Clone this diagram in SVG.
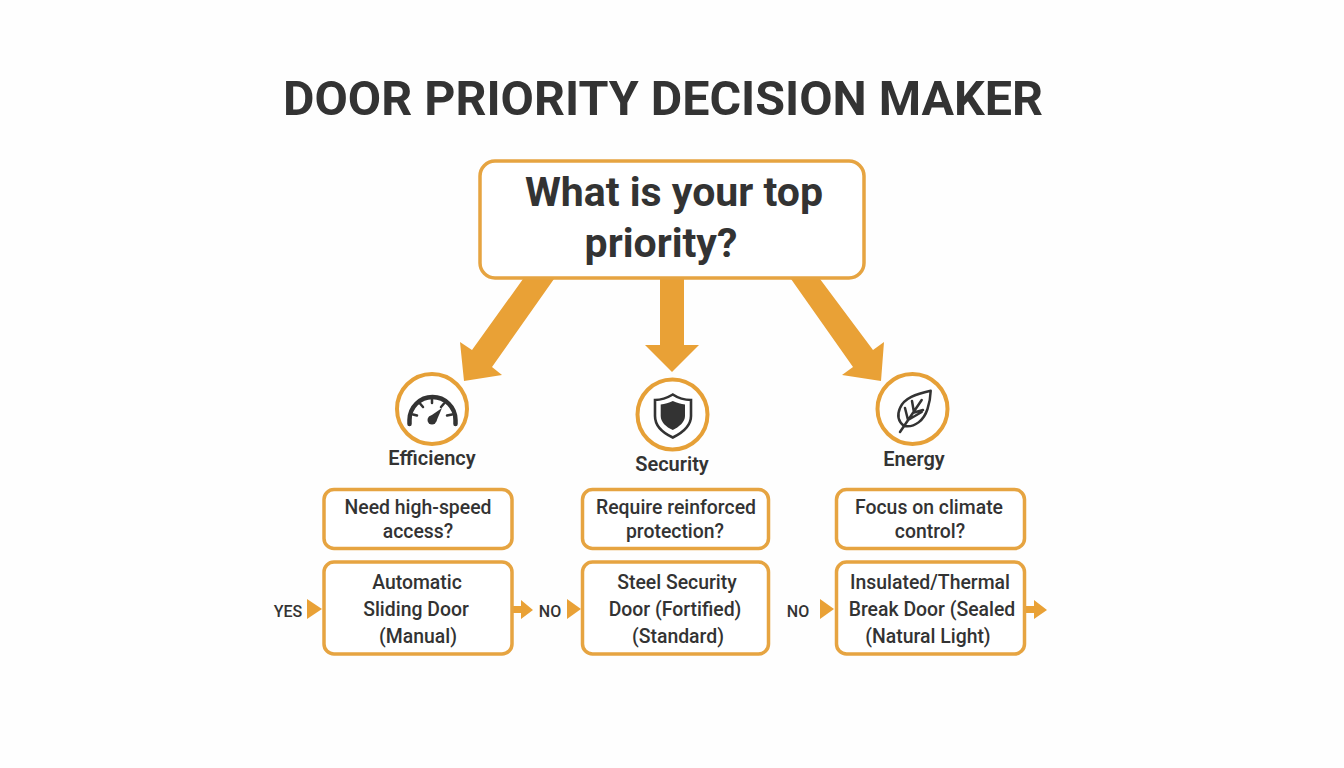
<svg xmlns="http://www.w3.org/2000/svg" width="1344" height="768" viewBox="0 0 1344 768">
<style>
text{font-family:Roboto,"Liberation Sans",sans-serif;fill:#333;text-anchor:middle}
.b{fill:#fff;stroke:#e6a441;stroke-width:3.500}
.c{fill:#fff;stroke:#e6a037;stroke-width:4}
.a{fill:#e9a136}
.t{font-size:19.400px;font-weight:500}
.l{font-size:20px;font-weight:600}
.y{font-size:16px;font-weight:500}
.i{fill:none;stroke:#333;stroke-linecap:round;stroke-linejoin:round}
</style>
<rect width="1344" height="768" fill="#fefefe"/>
<text x="663" y="115" font-size="48.400" font-weight="700">DOOR PRIORITY DECISION MAKER</text>
<g id="connectors">
<polygon class="a" points="523,279 554,279 492,367 502,375 464,381 460,342 472,350"/>
<polygon class="a" points="660,279 684,279 684,345 699,345 672,372 645,345 660,345"/>
<polygon class="a" points="791,279 820,279 873,350 884,342 881,381 842,375 853,367"/>
<polygon class="a" points="307,599 322,609 307,619"/>
<polygon class="a" points="513,606 521,606 521,600 533,610 521,619 521,613 513,613"/>
<polygon class="a" points="567,599 581,609 567,619"/>
<polygon class="a" points="820,599 834,609 820,619"/>
<polygon class="a" points="1025,606 1034,606 1034,600 1047,610 1034,619 1034,613 1025,613"/>
<text class="y" x="288" y="617">YES</text>
<text class="y" x="550" y="617">NO</text>
<text class="y" x="798" y="617">NO</text>
</g>
<g id="top">
<rect class="b" x="480" y="161" width="384" height="117" rx="15"/>
<text x="674" y="206" font-size="41" font-weight="700">What is your top</text>
<text x="661" y="257" font-size="41" font-weight="700">priority?</text>
</g>
<g id="efficiency">
<circle class="c" cx="432" cy="409" r="35"/>
<path class="i" stroke-width="4.500" stroke-linecap="butt" d="M409.500 424V420A23 23 0 0 1 455.500 420V424"/>
<path class="i" stroke-width="2.500" stroke-linecap="butt" d="M413 414.500L417 415.500M420 403.500L423 407M432 399V403M444 403.500L441 407M452 414.500L447 415.500"/>
<path d="M429 417L442 408L436 422Z" fill="#333"/><circle cx="432" cy="420" r="4.500" fill="#333"/>
<text class="l" x="432" y="465">Efficiency</text>
</g>
<g id="security">
<circle class="c" cx="672.500" cy="414.500" r="35"/>
<path d="M672.800 394.500C678 398 685 400 691 400V416C691 426 682 433 672.800 437.500C663 433 655 426 655 416V400C661 400 667 398 672.800 394.500Z" fill="none" stroke="#333" stroke-width="2.600"/>
<path d="M672.800 401C677 403 681 404 685 404.500V416C685 422 679 427 672.800 430C666 427 660.700 422 660.700 416V404.500C665 404 669 403 672.800 401Z" fill="#333"/>
<text class="l" x="672" y="471">Security</text>
</g>
<g id="energy">
<circle class="c" cx="912.500" cy="409" r="35"/>
<path class="i" stroke-width="2.500" d="M930.700 390.700C916 394 904 398 900 408C896.500 416 899 422 904 426C915 428 924 420 927.500 409C929.500 403 930.500 397 930.700 390.700Z"/>
<path class="i" stroke-width="2.500" d="M900 432L921.700 400M908 420L905 408M914 412.500L912 401M908 420L921.700 412M914 412.500L923 410"/>
<text class="l" x="914" y="466">Energy</text>
</g>
<g id="q1">
<rect class="b" x="324" y="489.500" width="188" height="59" rx="10"/>
<text class="t" x="418" y="514">Need high-speed</text><text class="t" x="418" y="538">access?</text>
</g>
<g id="q2">
<rect class="b" x="582.500" y="489.500" width="186" height="59" rx="10"/>
<text class="t" x="676" y="514">Require reinforced</text><text class="t" x="675" y="538">protection?</text>
</g>
<g id="q3">
<rect class="b" x="836.500" y="489.500" width="188" height="59" rx="10"/>
<text class="t" x="929" y="514">Focus on climate</text><text class="t" x="930" y="538">control?</text>
</g>
<g id="r1">
<rect class="b" x="324" y="562" width="188" height="92" rx="10"/>
<text class="t" x="417" y="588.500">Automatic</text><text class="t" x="416" y="615.500">Sliding Door</text><text class="t" x="418" y="642.500">(Manual)</text>
</g>
<g id="r2">
<rect class="b" x="582.500" y="562" width="186" height="92" rx="10"/>
<text class="t" x="677" y="588.500">Steel Security</text><text class="t" x="675" y="615.500">Door (Fortified)</text><text class="t" x="678" y="642.500">(Standard)</text>
</g>
<g id="r3">
<rect class="b" x="836.500" y="562" width="188" height="92" rx="10"/>
<text class="t" x="930" y="588.500">Insulated/Thermal</text><text class="t" x="932" y="615.500">Break Door (Sealed</text><text class="t" x="928" y="642.500">(Natural Light)</text>
</g>
</svg>
